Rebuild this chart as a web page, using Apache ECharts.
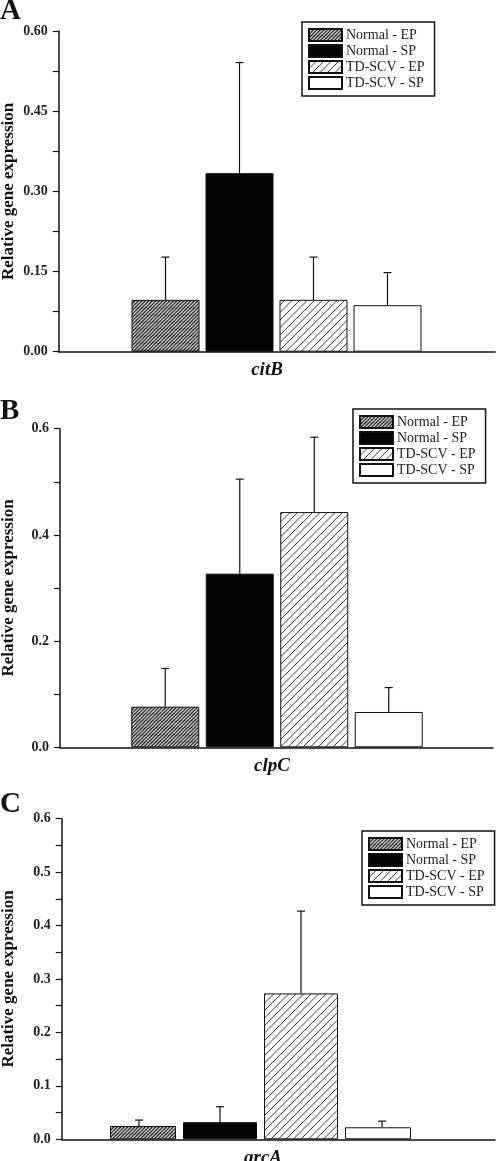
<!DOCTYPE html>
<html><head><meta charset="utf-8">
<script src="https://cdn.jsdelivr.net/npm/echarts@6/dist/echarts.min.js"></script>
<style>html,body{margin:0;padding:0;background:#fff}#c{width:500px;height:1161px}</style>
</head><body><div id="c"></div>
<script>
// ---------- data ----------
const seriesNames = ['Normal - EP', 'Normal - SP', 'TD-SCV - EP', 'TD-SCV - SP'];
const genes = ['citB', 'clpC', 'arcA'];
const panelLetters = ['A', 'B', 'C'];
const yMax = [0.6, 0.6, 0.6];
const yInterval = [0.15, 0.2, 0.1];
const yDecimals = [2, 1, 1];
const yAxisTitle = 'Relative gene expression';

const citB_mean = [0.097, 0.334, 0.097, 0.087];
const citB_err  = [0.080, 0.207, 0.080, 0.061];
const clpC_mean = [0.0765, 0.327, 0.443, 0.0665];
const clpC_err  = [0.072, 0.178, 0.141, 0.046];
const arcA_mean = [0.025, 0.032, 0.273, 0.0225];
const arcA_err  = [0.011, 0.029, 0.154, 0.0115];

const means = [citB_mean, clpC_mean, arcA_mean];
const errs = [citB_err, clpC_err, arcA_err];

// ---------- layout (positions / styles only) ----------
const frames = [
  {left: 58.7, top: 31, height: 320.7, right: 5},
  {left: 60, top: 428.7, height: 318.6, right: 7},
  {left: 61.7, top: 818.7, height: 320.6, right: 5}
];
const barsLayout = [
  {center: 276.5, w: 68, gap: 6, dx: -9.5},
  {center: 277, w: 68, gap: 6.5, dx: -5},
  {center: 260.5, w: 74, gap: 7, dx: 2.5}
];
const legendPos = [
  {left: 302, top: 22},
  {left: 353, top: 409},
  {left: 362, top: 831}
];
const letterPos = [11, 411, 804];

const FONT = "'Liberation Serif', 'Times New Roman', serif";
const INK = '#111';

function hatch(size, lines, bg, fg, lw) {
  const c = document.createElement('canvas');
  c.width = c.height = size;
  const ctx = c.getContext('2d');
  ctx.fillStyle = bg; ctx.fillRect(0, 0, size, size);
  ctx.strokeStyle = fg; ctx.lineWidth = lw;
  const step = size / lines;
  for (let k = -lines; k <= 2 * lines; k++) {
    const o = k * step;
    ctx.beginPath(); ctx.moveTo(o, size); ctx.lineTo(o + size, 0); ctx.stroke();
  }
  return c;
}
const fills = [
  {image: hatch(7, 2, '#141414', '#d4d4d4', 1.3), repeat: 'repeat'},
  '#050505',
  {image: hatch(15, 2, '#ffffff', '#222222', 0.9), repeat: 'repeat'},
  '#ffffff'
];

const grid = [], xAxis = [], yAxis = [], series = [], legend = [], graphic = [];

frames.forEach((f, p) => {
  const b = barsLayout[p];
  grid.push({left: f.left, right: f.right, top: f.top, height: f.height, outerBoundsMode: 'none'});
  grid.push({left: b.center - 150, width: 300, top: f.top, height: f.height, outerBoundsMode: 'none'});
  const gF = 2 * p, gB = 2 * p + 1;
  xAxis.push({gridIndex: gF, type: 'category', data: [''],
    axisLine: {show: true, lineStyle: {color: INK, width: 1.5}},
    axisTick: {show: false}, axisLabel: {show: false}, splitLine: {show: false}});
  xAxis.push({gridIndex: gB, type: 'category', data: [genes[p]],
    axisLine: {show: false}, axisTick: {show: false}, splitLine: {show: false},
    axisLabel: {show: true, margin: 9, fontFamily: FONT, fontSize: 19, fontWeight: 'bold',
      fontStyle: 'italic', color: INK,
      padding: b.dx < 0 ? [0, -2 * b.dx, 0, 0] : [0, 0, 0, 2 * b.dx]}});
  yAxis.push({gridIndex: gF, type: 'value', min: 0, max: yMax[p], interval: yInterval[p],
    axisLine: {show: true, lineStyle: {color: INK, width: 1.5}},
    axisTick: {show: true, inside: false, length: 6, lineStyle: {color: INK, width: 1.2}},
    minorTick: {show: true, splitNumber: 2, length: 6, lineStyle: {color: INK, width: 1.2}},
    splitLine: {show: false}, minorSplitLine: {show: false},
    axisLabel: {margin: 11, fontFamily: FONT, fontSize: 14, fontWeight: 'bold', color: '#222',
      formatter: v => v.toFixed(yDecimals[p])},
    name: yAxisTitle, nameLocation: 'middle', nameRotate: 90, nameGap: f.left - 17, nameMoveOverlap: false,
    nameTextStyle: {fontFamily: FONT, fontSize: 17, fontWeight: 'bold', color: INK}});
  yAxis.push({gridIndex: gB, type: 'value', min: 0, max: yMax[p], show: false,
    splitLine: {show: false}});

  seriesNames.forEach((name, i) => {
    series.push({type: 'bar', name: name, xAxisIndex: gB, yAxisIndex: gB,
      data: [means[p][i]], barWidth: b.w, barGap: (b.gap / b.w * 100) + '%',
      itemStyle: {color: fills[i], borderColor: INK, borderWidth: 1},
      emphasis: {disabled: true}, animation: false, z: 2});
  });
  const w = b.w, gap = b.gap;
  series.push({type: 'custom', xAxisIndex: gB, yAxisIndex: gB, z: 3, animation: false,
    silent: true,
    data: seriesNames.map((n, i) => [0, means[p][i], means[p][i] + errs[p][i], i]),
    encode: {x: 0, y: [1, 2]},
    renderItem: function (params, api) {
      const i = api.value(3);
      const c0 = api.coord([0, api.value(1)]);
      const c1 = api.coord([0, api.value(2)]);
      const x = c0[0] + (i - 1.5) * (w + gap);
      const st = {stroke: INK, lineWidth: 1.2};
      return {type: 'group', children: [
        {type: 'line', shape: {x1: x, y1: c0[1], x2: x, y2: c1[1]}, style: st},
        {type: 'line', shape: {x1: x - 4, y1: c1[1], x2: x + 4, y2: c1[1]}, style: st}
      ]};
    }});

  legend.push({left: legendPos[p].left, top: legendPos[p].top, orient: 'vertical',
    data: seriesNames, selectedMode: false, icon: 'rect',
    itemWidth: 33, itemHeight: 12, itemGap: 2,
    padding: [6, 10, 6, 6], borderColor: INK, borderWidth: 1.5, backgroundColor: '#fff',
    textStyle: {fontFamily: FONT, fontSize: 14, color: '#222', padding: [0, 0, 0, -1]}});

  graphic.push({type: 'text', left: 0, top: letterPos[p] - 14,
    style: {text: panelLetters[p], font: "bold 29px 'Liberation Serif', serif", fill: INK}});
});

const chart = echarts.init(document.getElementById('c'), null, {renderer: 'canvas'});
chart.setOption({animation: false, backgroundColor: '#fff', grid, xAxis, yAxis, series, legend, graphic});
</script>
</body></html>
